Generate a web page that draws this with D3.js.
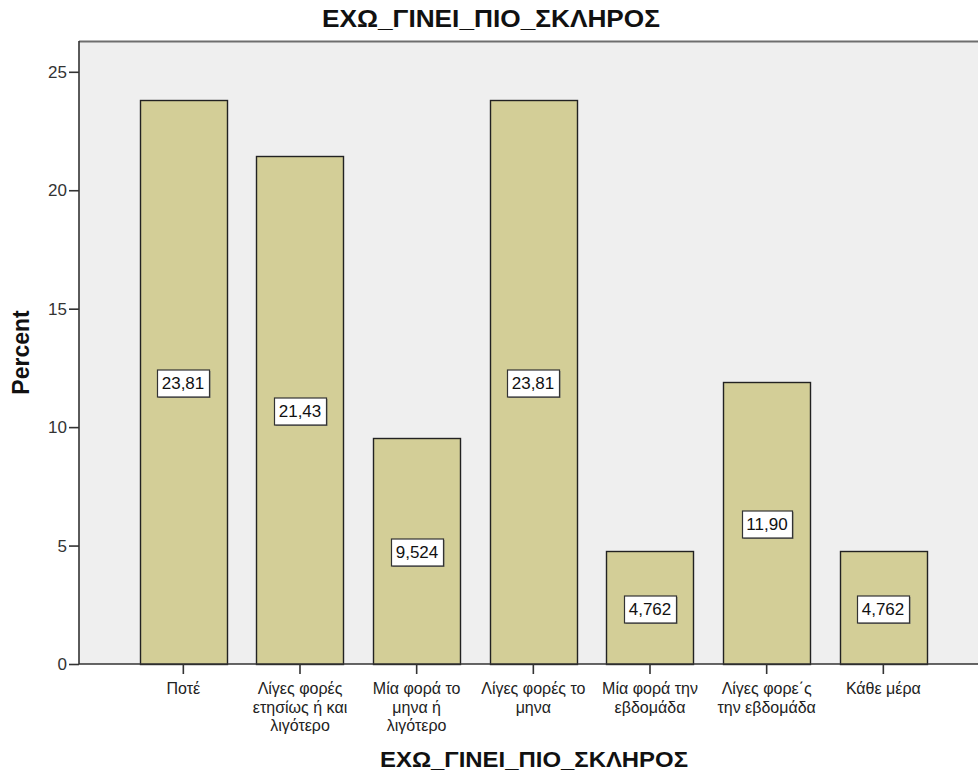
<!DOCTYPE html>
<html>
<head>
<meta charset="utf-8">
<script src="https://cdn.jsdelivr.net/npm/d3@7/dist/d3.min.js"></script>
<style>
  html, body { margin: 0; padding: 0; background: #fff; }
  svg { display: block; font-family: "Liberation Sans", Arial, sans-serif; }
</style>
</head>
<body>
<svg id="chart" width="978" height="773"></svg>
<script>
// Frequency distribution of ΕΧΩ_ΓΙΝΕΙ_ΠΙΟ_ΣΚΛΗΡΟΣ (percent of respondents)
const categories = [
  ["Ποτέ"],
  ["Λίγες φορές", "ετησίως ή και", "λιγότερο"],
  ["Μία φορά το", "μηνα ή", "λιγότερο"],
  ["Λίγες φορές το", "μηνα"],
  ["Μία φορά την", "εβδομάδα"],
  ["Λίγες φορε΄ς", "την εβδομάδα"],
  ["Κάθε μέρα"]
];
const percents = [23.81, 21.43, 9.524, 23.81, 4.762, 11.90, 4.762];
const yTicks = [0, 5, 10, 15, 20, 25];
const chartTitle = "ΕΧΩ_ΓΙΝΕΙ_ΠΙΟ_ΣΚΛΗΡΟΣ";
const xTitle = "ΕΧΩ_ΓΙΝΕΙ_ΠΙΟ_ΣΚΛΗΡΟΣ";
const yTitle = "Percent";

const svg = d3.select("#chart");
const plot = { left: 79, top: 41, right: 990, bottom: 664 };

const x = d3.scaleBand()
  .domain(d3.range(categories.length))
  .range([125, 941.67])
  .paddingInner(0.254)
  .paddingOuter(0.127);

const y = d3.scaleLinear()
  .domain([0, 26.3])
  .range([plot.bottom, plot.top]);

// plot background
svg.append("rect")
  .attr("x", plot.left).attr("y", plot.top)
  .attr("width", plot.right - plot.left).attr("height", plot.bottom - plot.top)
  .attr("fill", "#efefef");

// top frame line
svg.append("line")
  .attr("x1", plot.left).attr("x2", plot.right)
  .attr("y1", plot.top + 0.5).attr("y2", plot.top + 0.5)
  .attr("stroke", "#6e6e6e").attr("stroke-width", 2);

// bars
svg.append("g").selectAll("rect")
  .data(percents)
  .join("rect")
  .attr("x", (d, i) => Math.round(x(i)) + 0.5)
  .attr("y", d => Math.round(y(d)) + 0.5)
  .attr("width", Math.round(x.bandwidth()))
  .attr("height", d => Math.round(y(0)) - Math.round(y(d)))
  .attr("fill", "#d3ce97")
  .attr("stroke", "#222")
  .attr("stroke-width", 1.4);

// y axis
const yAxis = svg.append("g")
  .attr("transform", `translate(${plot.left},0)`)
  .call(d3.axisLeft(y).tickValues(yTicks).tickSize(10).tickPadding(2).tickFormat(d3.format("d")));
yAxis.select(".domain").attr("d", `M0,${plot.top}V${plot.bottom}`).attr("stroke", "#333").attr("stroke-width", 1.6);
yAxis.selectAll(".tick line").attr("stroke", "#333").attr("stroke-width", 1.6);
yAxis.selectAll(".tick text").attr("fill", "#333").style("font-size", "17px")
  .style("font-family", "'Liberation Sans', Arial, sans-serif");

// x axis
const xAxis = svg.append("g")
  .attr("transform", `translate(0,${plot.bottom})`)
  .call(d3.axisBottom(x).tickSize(10).tickFormat(""));
xAxis.select(".domain").attr("d", `M${plot.left},0H${plot.right}`).attr("stroke", "#333").attr("stroke-width", 1.6);
xAxis.selectAll(".tick line").attr("stroke", "#333").attr("stroke-width", 1.6);

// multi-line category labels
const catLabels = svg.append("g")
  .selectAll("text")
  .data(categories)
  .join("text")
  .attr("x", (d, i) => x(i) + x.bandwidth() / 2)
  .attr("y", 694)
  .attr("text-anchor", "middle")
  .attr("fill", "#222")
  .style("font-size", "16px");
catLabels.selectAll("tspan")
  .data((d, i) => d.map(line => ({ line, i })))
  .join("tspan")
  .attr("x", d => x(d.i) + x.bandwidth() / 2)
  .attr("dy", (d, j) => j === 0 ? 0 : 18.5)
  .text(d => d.line);

// value labels in boxes at half bar height
const fmt = v => d3.format(".4r")(v).replace(".", ",");
const lab = svg.append("g").selectAll("g")
  .data(percents)
  .join("g")
  .attr("transform", (d, i) => `translate(${Math.round(x(i) + x.bandwidth() / 2)},${Math.round((y(d) + y(0)) / 2) + 1})`);
lab.append("text")
  .attr("text-anchor", "middle")
  .attr("dy", "0.36em")
  .attr("fill", "#111")
  .style("font-size", "17px")
  .text(fmt);
lab.each(function () {
  const g = d3.select(this);
  const bb = g.select("text").node().getBBox();
  const w = Math.round(bb.width + 9), h = 27;
  g.insert("rect", "text")
    .attr("x", -w / 2 + 1.5).attr("y", -h / 2 + 1.5)
    .attr("width", w).attr("height", h)
    .attr("fill", "#7d7d70");
  g.insert("rect", "text")
    .attr("x", -w / 2 + 0.5).attr("y", -h / 2 + 0.5)
    .attr("width", w).attr("height", h)
    .attr("fill", "#fff").attr("stroke", "#333").attr("stroke-width", 1.2);
});

// titles
svg.append("text")
  .attr("x", 491).attr("y", 27)
  .attr("text-anchor", "middle")
  .attr("font-weight", "bold")
  .attr("fill", "#111")
  .attr("textLength", 338)
  .attr("lengthAdjust", "spacingAndGlyphs")
  .style("font-size", "24px")
  .text(chartTitle);

svg.append("text")
  .attr("x", 534).attr("y", 767)
  .attr("text-anchor", "middle")
  .attr("font-weight", "bold")
  .attr("fill", "#111")
  .attr("textLength", 308)
  .attr("lengthAdjust", "spacingAndGlyphs")
  .style("font-size", "22px")
  .text(xTitle);

svg.append("text")
  .attr("transform", "translate(28.5,352.5) rotate(-90)")
  .attr("text-anchor", "middle")
  .attr("font-weight", "bold")
  .attr("fill", "#111")
  .style("font-size", "23px")
  .text(yTitle);
</script>
</body>
</html>
